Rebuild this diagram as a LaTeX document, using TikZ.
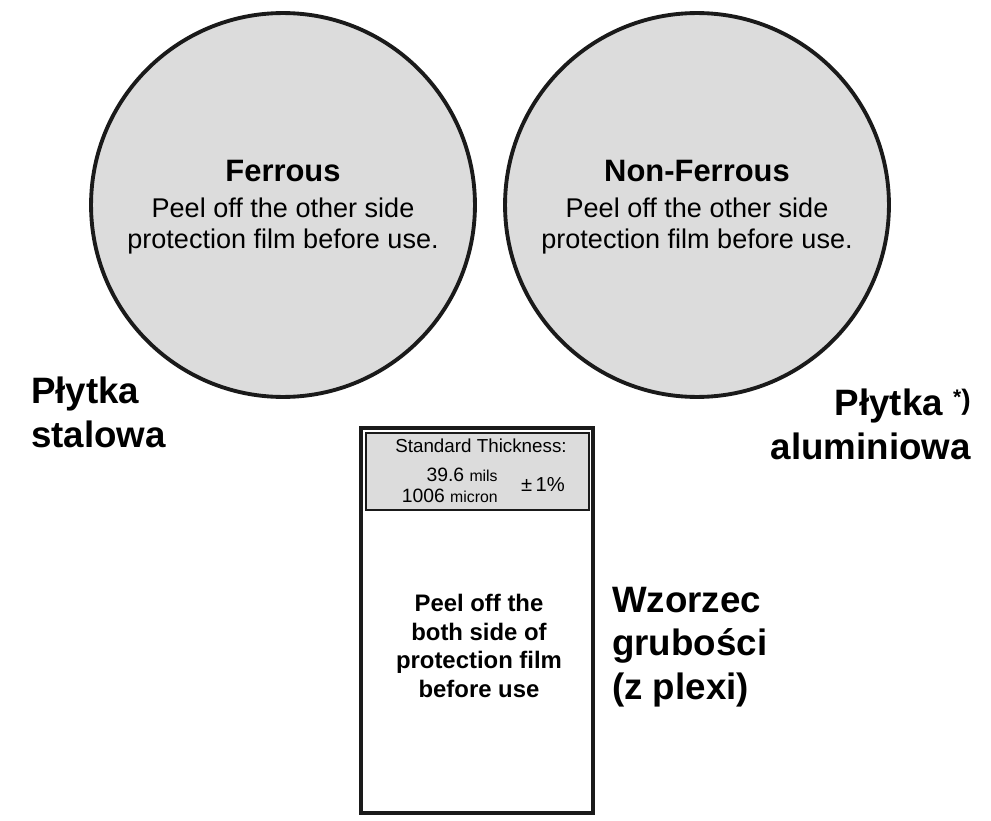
\documentclass[tikz,border=0pt]{standalone}
\usepackage{fontspec}
\setmainfont{Liberation Sans}
\usetikzlibrary{positioning}
\definecolor{platefill}{HTML}{DCDCDC}
\definecolor{inkline}{HTML}{1A1A1A}
\tikzset{
	platetitle/.style = {font=\fontsize{17.6}{20}\selectfont\bfseries},
	platenote/.style = {align=center, font=\fontsize{15.4}{18.1}\selectfont},
	biglabel/.style = {font=\fontsize{20.9}{24.9}\selectfont\bfseries},
	samplenote/.style = {align=center, font=\fontsize{13.6}{16.4}\selectfont\bfseries}
}

\begin{document}
\begin{tikzpicture}[x=0.02cm,y=-0.02cm]
	\useasboundingbox (0,0) rectangle (991,821);
	% two plates
	\draw [line width=2.2pt, draw=inkline, fill=platefill] (283,205) circle (3.84cm);
	\draw [line width=2.2pt, draw=inkline, fill=platefill] (697,205) circle (3.84cm);
	\node [platetitle] (fe) at (283,171) {Ferrous};
	\node [platenote] (fenote) at (283,226) {Peel off the other side\\protection film before use.};
	\node [platetitle] (nfe) at (697,171) {Non-Ferrous};
	\node [platenote] (nfenote) at (697,226) {Peel off the other side\\protection film before use.};
	% thickness sample
	\draw [line width=2.2pt, draw=inkline] (361,428) rectangle (593,813);
	\draw [line width=1.7pt, draw=inkline, fill=platefill] (366,433) rectangle (589,510);
	\node [font=\fontsize{10.7}{12}\selectfont] (std) at (481,446) {Standard Thickness:};
	\node [anchor=east, inner sep=0pt] (mils) at (498,475) {\fontsize{11}{12}\selectfont 39.6 \fontsize{9}{10}\selectfont mils};
	\node [anchor=east, inner sep=0pt] (micron) at (498,496) {\fontsize{11}{12}\selectfont 1006 \fontsize{9}{10}\selectfont micron};
	\node [font=\fontsize{11.5}{12}\selectfont] (tol) at (543,485) {±\,1\%};
	\node [samplenote] (samplenote) at (479,646) {Peel off the\\both side of\\protection film\\before use};
	% side labels
	\node [biglabel, align=left, anchor=west] (steel) at (25,412) {Płytka\\stalowa};
	\node [biglabel, align=right, anchor=east] (alu) at (977,424) {Płytka \raisebox{6pt}{\fontsize{12}{12}\selectfont *}\raisebox{3pt}{\fontsize{16}{16}\selectfont )}\\aluminiowa};
	\node [biglabel, align=left, anchor=west] (gauge) at (606,647) {Wzorzec\\grubości\\(z plexi)};
\end{tikzpicture}
\end{document}
